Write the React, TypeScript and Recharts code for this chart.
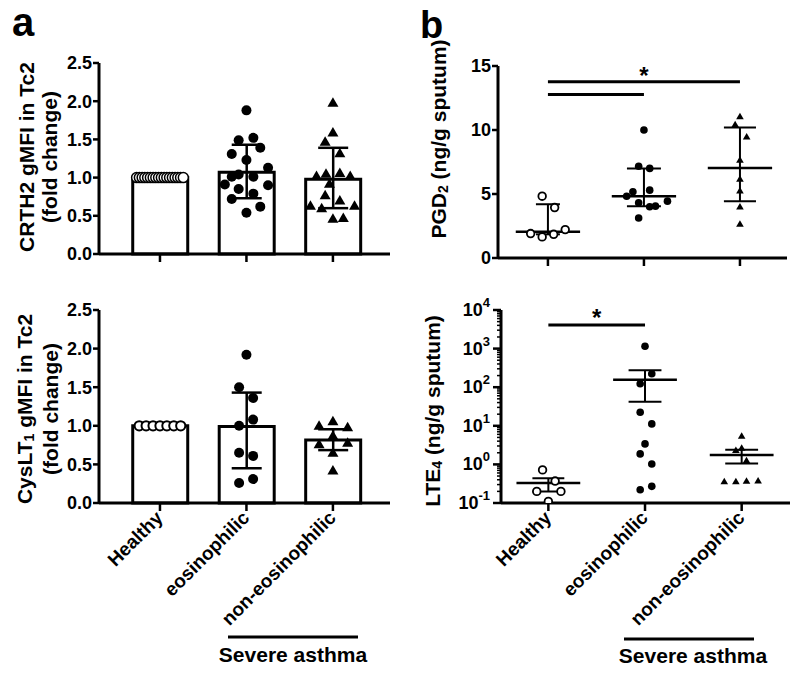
import React from 'react';
import {
  ComposedChart,
  ScatterChart,
  Bar,
  Scatter,
  XAxis,
  YAxis,
  ErrorBar,
  ReferenceLine,
  ReferenceDot,
} from 'recharts';

const FONT = '"Liberation Sans", Arial, Helvetica, sans-serif';

// ---------- categories ----------
const groups = ['Healthy', 'eosinophilic', 'non-eosinophilic'];
const groupPos = [0, 1, 2];

// ---------- Panel a (top): CRTH2 gMFI ----------
const crth2Means = [1.0, 1.07, 0.98];
const crth2Err = [[0, 0], [0.34, 0.36], [0.38, 0.41]];
const crth2HealthyVals = [1, 1, 1, 1, 1, 1, 1, 1, 1, 1, 1, 1, 1, 1, 1, 1, 1, 1];
const crth2HealthyDx = [-0.27, -0.238, -0.206, -0.175, -0.143, -0.111, -0.079, -0.048, -0.016, 0.016, 0.048, 0.079, 0.111, 0.143, 0.175, 0.206, 0.238, 0.27];
const crth2EosVals = [1.88, 1.49, 1.52, 1.31, 1.39, 1.23, 1.13, 1.04, 1.01, 1.01, 0.91, 0.9, 0.85, 0.79, 0.72, 0.62, 0.54];
const crth2EosDx = [0, -0.09, 0.08, -0.17, 0.16, 0, 0.25, -0.09, -0.17, 0.08, -0.25, 0.25, -0.09, 0.08, -0.17, 0.16, 0];
const crth2NonVals = [1.99, 1.6, 1.48, 1.33, 1.03, 1.06, 1.07, 1.03, 0.93, 0.78, 0.71, 0.64, 0.61, 0.64, 0.47, 0.48];
const crth2NonDx = [0, 0, -0.09, 0.08, -0.19, -0.08, 0.08, 0.2, -0.04, -0.09, 0.08, -0.26, -0.13, 0.25, 0, 0.12];

// ---------- Panel a (bottom): CysLT1 gMFI ----------
const cyslMeans = [1.0, 0.99, 0.815];
const cyslErr = [[0, 0], [0.54, 0.44], [0.13, 0.14]];
const cyslHealthyVals = [1, 1, 1, 1, 1, 1, 1];
const cyslHealthyDx = [-0.24, -0.16, -0.08, 0, 0.08, 0.16, 0.24];
const cyslEosVals = [1.92, 1.5, 1.36, 1.08, 1.0, 0.65, 0.61, 0.26, 0.31];
const cyslEosDx = [0, -0.085, 0.077, 0.077, -0.085, -0.085, 0.077, -0.085, 0.077];
const cyslNonVals = [1.07, 1.01, 0.99, 0.88, 0.77, 0.79, 0.66, 0.43];
const cyslNonDx = [0, -0.16, 0.17, 0, -0.16, 0.17, 0, 0];

// ---------- Panel b (top): PGD2 ----------
const pgdHealthyVals = [4.83, 3.94, 1.91, 1.65, 1.85, 2.22];
const pgdHealthyDx = [-0.06, 0.07, -0.18, -0.06, 0.06, 0.18];
const pgdEosVals = [10.0, 7.17, 7.0, 4.83, 5.17, 5.3, 4.31, 4.0, 4.05, 4.44, 3.13];
const pgdEosDx = [0, -0.055, 0.06, -0.18, -0.115, 0.06, -0.055, 0.06, 0.12, 0.245, -0.055];
const pgdNonVals = [11.09, 10.46, 9.52, 7.7, 6.21, 5.3, 4.05, 2.69];
const pgdNonDx = [0, -0.05, 0.07, 0, 0, 0, 0, 0];
const pgdMedian = [2.06, 4.83, 7.04];
const pgdQ1 = [1.85, 4.05, 4.44];
const pgdQ3 = [4.2, 7.0, 10.2];
const pgdSig = [
  { from: 0, to: 2, y: 13.77 },
  { from: 0, to: 1, y: 12.78 },
];
const pgdStar = { x: 1, y: 14.69 };

// ---------- Panel b (bottom): LTE4 ----------
const lteHealthyVals = [0.72, 0.37, 0.2, 0.2, 0.11];
const lteHealthyDx = [-0.06, 0.07, -0.12, 0.13, 0];
const lteEosVals = [1150, 224, 123, 22.4, 11.2, 3.4, 1.87, 1.02, 0.22, 0.27];
const lteEosDx = [0, 0.07, -0.05, -0.05, 0.07, 0, -0.05, 0.07, -0.05, 0.07];
const lteNonVals = [5.6, 2.4, 2.75, 1.3, 0.37, 0.37, 0.38, 0.39];
const lteNonDx = [0, -0.06, 0, 0.05, -0.18, -0.06, 0.05, 0.17];
const lteMean = [0.33, 157, 1.75];
const lteLow = [0.2, 42, 1.06];
const lteHigh = [0.44, 275, 2.4];
const lteSig = [{ from: 0, to: 1, y: 4070 }];
const lteStar = { x: 0.5, y: 9000 };
const lteMajor = [0.1, 1, 10, 100, 1000, 10000];
const lteExp = ['-1', '0', '1', '2', '3', '4'];
const lteMinor = [
  0.2, 0.3, 0.4, 0.5, 0.6, 0.7, 0.8, 0.9,
  2, 3, 4, 5, 6, 7, 8, 9,
  20, 30, 40, 50, 60, 70, 80, 90,
  200, 300, 400, 500, 600, 700, 800, 900,
  2000, 3000, 4000, 5000, 6000, 7000, 8000, 9000,
];

// ---------- helpers ----------
const toPoints = (g: number, vals: number[], dx: number[]) =>
  vals.map((y, i) => ({ px: g + dx[i], y }));

const filledCircle = (r: number) => (p: any) => (
  <circle cx={p.cx} cy={p.cy} r={r} fill="#000" />
);
const openCircle = (r: number, sw: number) => (p: any) => (
  <circle cx={p.cx} cy={p.cy} r={r} fill="#fff" stroke="#000" strokeWidth={sw} />
);
const triangle = (hw: number, h: number) => (p: any) => (
  <polygon
    points={`${p.cx - hw},${p.cy + h / 2} ${p.cx + hw},${p.cy + h / 2} ${p.cx},${p.cy - h / 2}`}
    fill="#000"
  />
);

const AXIS_LINE = { stroke: '#000', strokeWidth: 3 };
const TICK_LINE = { stroke: '#000', strokeWidth: 2.5 };
const TICK_TEXT = { fill: '#000', fontSize: 18, fontWeight: 'bold', fontFamily: FONT };

const EmptyTick = () => <g />;

const RotTick = (props: any) => {
  const { x, y, payload } = props;
  const ax = x + 4;
  const ay = y + 6;
  return (
    <text
      x={ax}
      y={ay}
      transform={`rotate(-45, ${ax}, ${ay})`}
      textAnchor="end"
      fontSize={19}
      fontWeight="bold"
      fontFamily={FONT}
      fill="#000"
    >
      {groups[payload.value]}
    </text>
  );
};

const LogTick = (props: any) => {
  const { x, y, payload } = props;
  const v = payload.value;
  const ax = x + 8 + 3;
  const idx = lteMajor.indexOf(v);
  const isMajor = idx >= 0;
  return (
    <g>
      <line x1={ax - (isMajor ? 8 : 4)} x2={ax} y1={y} y2={y} stroke="#000" strokeWidth={isMajor ? 2.5 : 1.5} />
      {isMajor && (
        <text x={x} y={y + 6} textAnchor="end" fontSize={18} fontWeight="bold" fontFamily={FONT} fill="#000">
          <tspan>10</tspan>
          <tspan dy={-9} fontSize={13}>{lteExp[idx]}</tspan>
        </text>
      )}
    </g>
  );
};

const Star = (p: any) => (
  <text x={p.cx} y={p.cy + 14} textAnchor="middle" fontSize={24} fontWeight="bold" fontFamily={FONT} fill="#000">
    *
  </text>
);

const A_DOMAIN: [number, number] = [-0.705, 2.66];

// ---------- Panel a chart ----------
function BarPanel(props: {
  height: number;
  top: number;
  xHeight: number;
  means: number[];
  errs: number[][];
  healthy: { px: number; y: number }[];
  eos: { px: number; y: number }[];
  non: { px: number; y: number }[];
  healthyShape: any;
  showLabels: boolean;
}) {
  const barData = groups.map((g, i) => ({ x: groupPos[i], group: g, mean: props.means[i], err: props.errs[i] }));
  return (
    <ComposedChart
      width={400}
      height={props.height}
      data={barData}
      margin={{ top: props.top, right: 10, bottom: 0, left: 0 }}
    >
      <XAxis
        xAxisId="bar"
        dataKey="x"
        type="number"
        domain={A_DOMAIN}
        ticks={[0, 1, 2]}
        interval={0}
        allowDataOverflow
        height={props.xHeight}
        tickSize={8}
        axisLine={AXIS_LINE}
        tickLine={TICK_LINE}
        tick={props.showLabels ? <RotTick /> : <EmptyTick />}
      />
      <XAxis xAxisId="pts" dataKey="px" type="number" domain={A_DOMAIN} allowDataOverflow hide />
      <YAxis
        type="number"
        domain={[0, 2.5]}
        ticks={[0, 0.5, 1, 1.5, 2, 2.5]}
        interval={0}
        width={99}
        tickSize={6}
        tickMargin={1}
        axisLine={AXIS_LINE}
        tickLine={TICK_LINE}
        tick={TICK_TEXT}
        tickFormatter={(v: number) => v.toFixed(1)}
      />
      <Bar
        xAxisId="bar"
        dataKey="mean"
        fill="#fff"
        stroke="#000"
        strokeWidth={3}
        barSize={55}
        isAnimationActive={false}
      >
        <ErrorBar dataKey="err" width={15} stroke="#000" strokeWidth={2.5} />
      </Bar>
      <Scatter xAxisId="pts" dataKey="y" data={props.healthy} shape={props.healthyShape} isAnimationActive={false} />
      <Scatter xAxisId="pts" dataKey="y" data={props.eos} shape={filledCircle(5)} isAnimationActive={false} />
      <Scatter xAxisId="pts" dataKey="y" data={props.non} shape={triangle(5.5, 9.5)} isAnimationActive={false} />
    </ComposedChart>
  );
}

function segLines(center: number[], low: number[], high: number[], capHalf: number[], medHalf: number) {
  const out: any[] = [];
  center.forEach((m, g) => {
    out.push(
      <ReferenceLine key={`m${g}`} segment={[{ x: g - medHalf, y: m }, { x: g + medHalf, y: m }]} stroke="#000" strokeWidth={2.5} />
    );
    out.push(
      <ReferenceLine key={`v${g}`} segment={[{ x: g, y: low[g] }, { x: g, y: high[g] }]} stroke="#000" strokeWidth={2} />
    );
    out.push(
      <ReferenceLine key={`l${g}`} segment={[{ x: g - capHalf[g], y: low[g] }, { x: g + capHalf[g], y: low[g] }]} stroke="#000" strokeWidth={2} />
    );
    out.push(
      <ReferenceLine key={`h${g}`} segment={[{ x: g - capHalf[g], y: high[g] }, { x: g + capHalf[g], y: high[g] }]} stroke="#000" strokeWidth={2} />
    );
  });
  return out;
}

function PgdPanel() {
  return (
    <ScatterChart width={400} height={280} margin={{ top: 66, right: 13, bottom: 0, left: 0 }}>
      <XAxis
        dataKey="px"
        type="number"
        domain={[-0.52, 2.49]}
        ticks={[0, 1, 2]}
        interval={0}
        allowDataOverflow
        height={22}
        tickSize={8}
        axisLine={AXIS_LINE}
        tickLine={TICK_LINE}
        tick={<EmptyTick />}
      />
      <YAxis
        dataKey="y"
        type="number"
        domain={[0, 15]}
        ticks={[0, 5, 10, 15]}
        interval={0}
        width={98}
        tickSize={6}
        tickMargin={1}
        axisLine={AXIS_LINE}
        tickLine={TICK_LINE}
        tick={TICK_TEXT}
      />
      {segLines(pgdMedian, pgdQ1, pgdQ3, [0.125, 0.177, 0.167], 0.335)}
      {pgdSig.map((s, i) => (
        <ReferenceLine key={`s${i}`} segment={[{ x: s.from, y: s.y }, { x: s.to, y: s.y }]} stroke="#000" strokeWidth={3} />
      ))}
      <ReferenceDot x={pgdStar.x} y={pgdStar.y} r={0} shape={Star} />
      <Scatter data={toPoints(0, pgdHealthyVals, pgdHealthyDx)} shape={openCircle(3.8, 1.8)} isAnimationActive={false} />
      <Scatter data={toPoints(1, pgdEosVals, pgdEosDx)} shape={filledCircle(3.8)} isAnimationActive={false} />
      <Scatter data={toPoints(2, pgdNonVals, pgdNonDx)} shape={triangle(3.8, 6.5)} isAnimationActive={false} />
    </ScatterChart>
  );
}

function LtePanel() {
  return (
    <ScatterChart width={400} height={394} margin={{ top: 30, right: 10, bottom: 0, left: 0 }}>
      <XAxis
        dataKey="px"
        type="number"
        domain={[-0.49, 2.5]}
        ticks={[0, 1, 2]}
        interval={0}
        allowDataOverflow
        height={171}
        tickSize={8}
        axisLine={AXIS_LINE}
        tickLine={TICK_LINE}
        tick={<RotTick />}
      />
      <YAxis
        dataKey="y"
        type="number"
        scale="log"
        domain={[0.1, 10000]}
        allowDataOverflow
        ticks={[...lteMajor, ...lteMinor]}
        interval={0}
        width={101}
        tickSize={8}
        tickMargin={3}
        axisLine={AXIS_LINE}
        tickLine={false}
        tick={<LogTick />}
      />
      {segLines(lteMean, lteLow, lteHigh, [0.165, 0.17, 0.17], 0.33)}
      {lteSig.map((s, i) => (
        <ReferenceLine key={`s${i}`} segment={[{ x: s.from, y: s.y }, { x: s.to, y: s.y }]} stroke="#000" strokeWidth={3} />
      ))}
      <ReferenceDot x={lteStar.x} y={lteStar.y} r={0} shape={Star} />
      <Scatter data={toPoints(0, lteHealthyVals, lteHealthyDx)} shape={openCircle(3.8, 1.8)} isAnimationActive={false} />
      <Scatter data={toPoints(1, lteEosVals, lteEosDx)} shape={filledCircle(3.8)} isAnimationActive={false} />
      <Scatter data={toPoints(2, lteNonVals, lteNonDx)} shape={triangle(3.8, 6.5)} isAnimationActive={false} />
    </ScatterChart>
  );
}

const VTitle = (p: { x: number; y: number; children: any }) => (
  <text
    x={p.x}
    y={p.y}
    transform={`rotate(-90, ${p.x}, ${p.y})`}
    textAnchor="middle"
    dominantBaseline="central"
    fontSize={21}
    fontWeight="bold"
    fontFamily={FONT}
    fill="#000"
  >
    {p.children}
  </text>
);

export default function App() {
  return (
    <div style={{ position: 'absolute', left: 0, top: 0, width: 800, height: 674, background: '#fff' }}>
      <div style={{ position: 'absolute', left: 0, top: 0 }}>
        <BarPanel
          height={280}
          top={63}
          xHeight={26}
          means={crth2Means}
          errs={crth2Err}
          healthy={toPoints(0, crth2HealthyVals, crth2HealthyDx)}
          eos={toPoints(1, crth2EosVals, crth2EosDx)}
          non={toPoints(2, crth2NonVals, crth2NonDx)}
          healthyShape={openCircle(5, 1.5)}
          showLabels={false}
        />
      </div>
      <div style={{ position: 'absolute', left: 0, top: 280 }}>
        <BarPanel
          height={394}
          top={30}
          xHeight={171}
          means={cyslMeans}
          errs={cyslErr}
          healthy={toPoints(0, cyslHealthyVals, cyslHealthyDx)}
          eos={toPoints(1, cyslEosVals, cyslEosDx)}
          non={toPoints(2, cyslNonVals, cyslNonDx)}
          healthyShape={openCircle(4.6, 2)}
          showLabels={true}
        />
      </div>
      <div style={{ position: 'absolute', left: 400, top: 0 }}>
        <PgdPanel />
      </div>
      <div style={{ position: 'absolute', left: 400, top: 280 }}>
        <LtePanel />
      </div>
      <svg
        width={800}
        height={674}
        style={{ position: 'absolute', left: 0, top: 0, pointerEvents: 'none' }}
      >
        <text x={12} y={36} fontSize={40} fontWeight="bold" fontFamily={FONT} fill="#000">a</text>
        <text x={420} y={38} fontSize={38} fontWeight="bold" fontFamily={FONT} fill="#000">b</text>

        <VTitle x={26} y={157}>CRTH2 gMFI in Tc2</VTitle>
        <VTitle x={49} y={157}>(fold change)</VTitle>

        <VTitle x={24} y={409}>
          <tspan>CysLT</tspan>
          <tspan fontSize={14} dy={5}>1</tspan>
          <tspan dy={-5}>{' gMFI in Tc2'}</tspan>
        </VTitle>
        <VTitle x={50} y={409}>(fold change)</VTitle>

        <VTitle x={438} y={139}>
          <tspan>PGD</tspan>
          <tspan fontSize={14} dy={5}>2</tspan>
          <tspan dy={-5}>{' (ng/g sputum)'}</tspan>
        </VTitle>

        <VTitle x={432} y={411}>
          <tspan>LTE</tspan>
          <tspan fontSize={14} dy={5}>4</tspan>
          <tspan dy={-5}>{' (ng/g sputum)'}</tspan>
        </VTitle>

        <line x1={228} x2={358} y1={637} y2={637} stroke="#000" strokeWidth={3} />
        <text x={293} y={662} textAnchor="middle" fontSize={21} fontWeight="bold" fontFamily={FONT} fill="#000">
          Severe asthma
        </text>
        <line x1={624} x2={754} y1={639} y2={639} stroke="#000" strokeWidth={3} />
        <text x={693} y={663} textAnchor="middle" fontSize={21} fontWeight="bold" fontFamily={FONT} fill="#000">
          Severe asthma
        </text>
      </svg>
    </div>
  );
}
